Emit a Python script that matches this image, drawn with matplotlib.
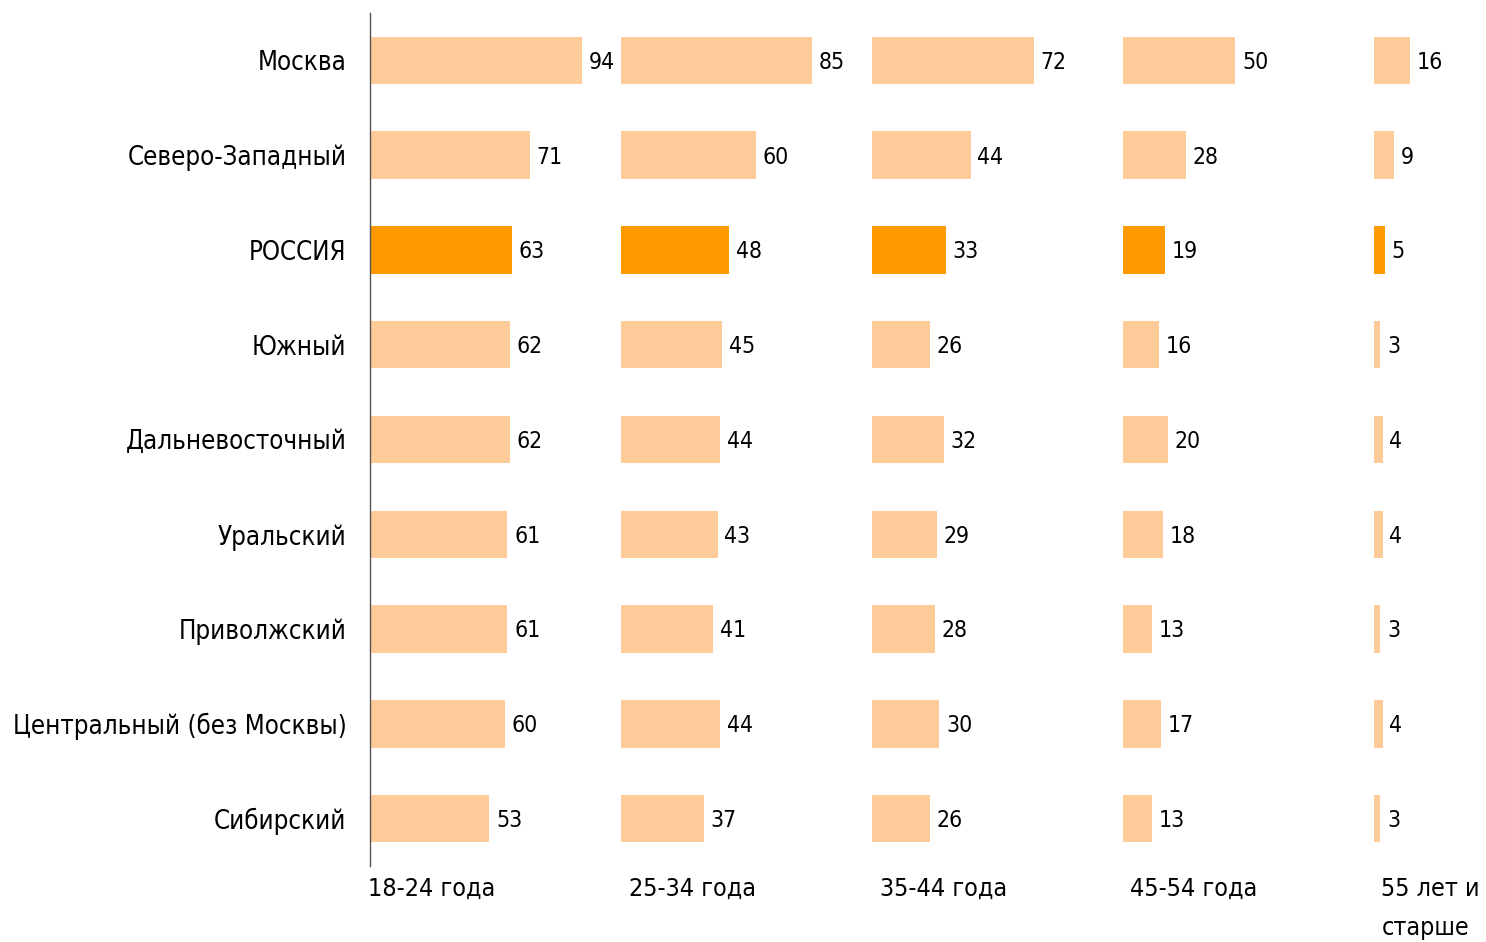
import matplotlib.pyplot as plt

plt.rcParams["font.family"] = ["DejaVu Sans"]
plt.rcParams["font.stretch"] = "condensed"

# Regions, top to bottom
regions = [
    "Москва",
    "Северо-Западный",
    "РОССИЯ",
    "Южный",
    "Дальневосточный",
    "Уральский",
    "Приволжский",
    "Центральный (без Москвы)",
    "Сибирский",
]
age_groups = ["18-24 года", "25-34 года", "35-44 года", "45-54 года", "55 лет и\nстарше"]

# values per age group, same order as regions
v_18_24 = [94, 71, 63, 62, 62, 61, 61, 60, 53]
v_25_34 = [85, 60, 48, 45, 44, 43, 41, 44, 37]
v_35_44 = [72, 44, 33, 26, 32, 29, 28, 30, 26]
v_45_54 = [50, 28, 19, 16, 20, 18, 13, 17, 13]
v_55 = [16, 9, 5, 3, 4, 4, 3, 4, 3]
series = [v_18_24, v_25_34, v_35_44, v_45_54, v_55]

highlight = "РОССИЯ"
LIGHT = "#FFCC99"
DARK = "#FF9900"
GROUP_STEP = 111.5

fig = plt.figure(figsize=(14.86, 9.42), dpi=100)
ax = fig.add_axes([370 / 1486, 1 - 866 / 942, 1 - 370 / 1486, 853 / 942])

ypos = list(range(len(regions)))
colors = [DARK if r == highlight else LIGHT for r in regions]

for gi, vals in enumerate(series):
    off = gi * GROUP_STEP
    ax.barh(ypos, vals, left=off, height=0.5, color=colors, edgecolor="none")
    for y, v in zip(ypos, vals):
        ax.text(off + v + 3, y + 0.02, str(v), va="center", ha="left", fontsize=16.5,
                color="black", fontstretch="condensed")
    ax.text(off + (-1 if gi == 0 else 3.5), 8.62, age_groups[gi], va="top", ha="left",
            fontsize=18, color="black", linespacing=1.75, fontstretch="condensed")

ax.set_xlim(0, 1116 / 2.25)
ax.set_ylim(8.5, -0.5)
ax.set_yticks(ypos)
ax.set_yticklabels(regions, fontsize=18.5, fontstretch="condensed")
ax.tick_params(axis="y", length=0, pad=17)
ax.set_xticks([])
for s in ["top", "right", "bottom"]:
    ax.spines[s].set_visible(False)
ax.spines["left"].set_color("#555555")
ax.spines["left"].set_linewidth(1)

fig.savefig("out.png", dpi=100)
